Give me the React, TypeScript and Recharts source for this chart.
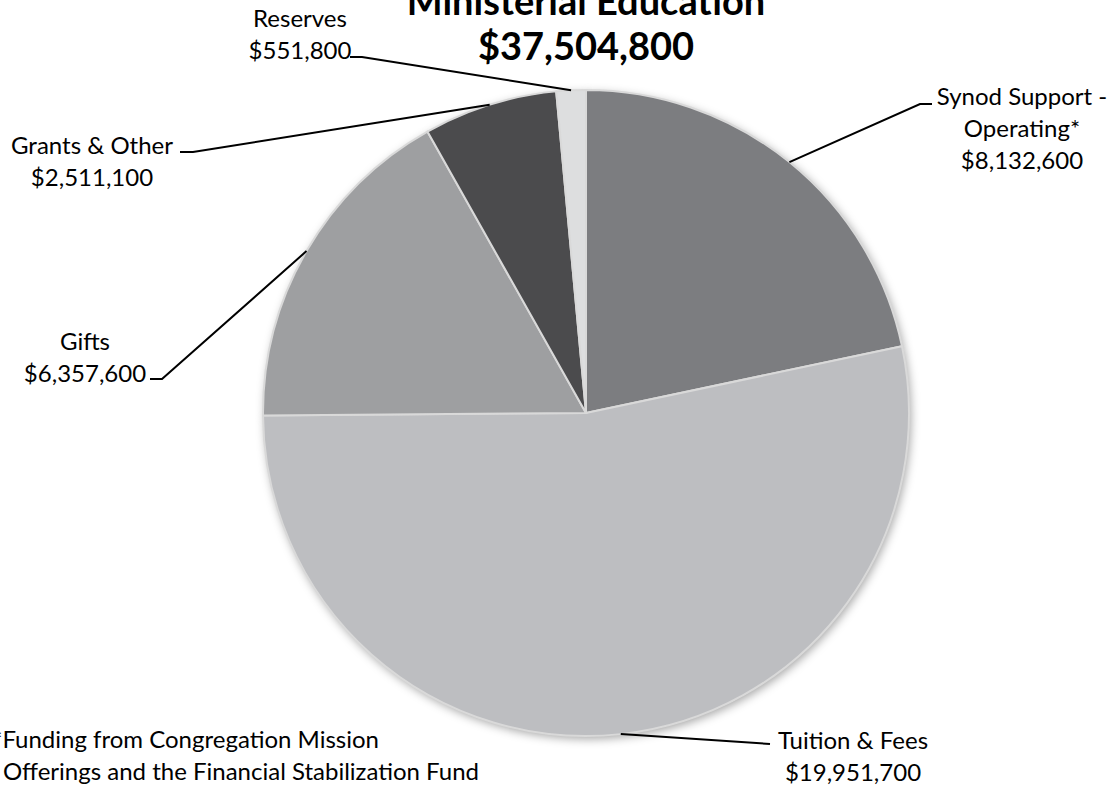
import { PieChart, Pie, Cell } from 'recharts';

const categories = ['Synod Support - Operating*', 'Tuition & Fees', 'Gifts', 'Grants & Other', 'Reserves'];
const labelLines = [['Synod Support -', 'Operating*'], ['Tuition & Fees'], ['Gifts'], ['Grants & Other'], ['Reserves']];
const values = [8132600, 19951700, 6357600, 2511100, 551800];
const colours = ['#7c7d80', '#bdbec1', '#9e9fa1', '#4b4b4d', '#dddedf'];

const titleLines = ['Ministerial Education', '$37,504,800'];
const footnoteLines = ['*Funding from Congregation Mission', 'Offerings and the Financial Stabilization Fund'];

const data = categories.map((name, i) => ({ name, value: values[i] }));

// where each label sits: elbow of leader, end of the short tick, text centre, first baseline
const LABEL_LAYOUT = [
  { ex: 920, hx: 932, ly: 104, tx: 1022, ty: 105 },
  { ex: 770, hx: 770, ly: 744, tx: 853, ty: 749 },
  { ex: 162, hx: 150, ly: 379, tx: 85, ty: 350 },
  { ex: 193, hx: 180, ly: 152, tx: 92, ty: 154 },
  { ex: 362, hx: 350, ly: 57, tx: 300, ty: 27 },
];

const FONT = 'Lato, "Open Sans", sans-serif';
const RADIAN = Math.PI / 180;
const fmt = (v: number) => '$' + v.toLocaleString('en-US');

function renderLabel(props: any) {
  const { cx, cy, midAngle, outerRadius, index } = props;
  const lay = LABEL_LAYOUT[index];
  const sx = cx + outerRadius * Math.cos(-midAngle * RADIAN);
  const sy = cy + outerRadius * Math.sin(-midAngle * RADIAN);
  const lines = [...labelLines[index], fmt(values[index])];
  return (
    <g key={`lbl-${index}`}>
      <polyline
        points={`${sx},${sy} ${lay.ex},${lay.ly} ${lay.hx},${lay.ly}`}
        fill="none"
        stroke="#000"
        strokeWidth={2}
      />
      <text x={lay.tx} y={lay.ty} textAnchor="middle" fontFamily={FONT} fontSize={24} fill="#000">
        {lines.map((l, i) => (
          <tspan key={i} x={lay.tx} dy={i === 0 ? 0 : 32}>
            {l}
          </tspan>
        ))}
      </text>
    </g>
  );
}

export default function App() {
  return (
    <div style={{ position: 'absolute', left: 0, top: 0, width: 1116, height: 786, overflow: 'hidden', background: '#fff' }}>
      <PieChart width={1116} height={786} margin={{ top: 0, right: 0, bottom: 0, left: 0 }}>
        <defs>
          <filter id="pieShadow" x="-20%" y="-20%" width="140%" height="140%">
            <feDropShadow dx={2} dy={3} stdDeviation={5} floodColor="#000" floodOpacity={0.35} />
          </filter>
        </defs>
        <Pie
          data={data}
          dataKey="value"
          cx={586}
          cy={413}
          outerRadius={323}
          startAngle={90}
          endAngle={-270}
          stroke="none"
          isAnimationActive={false}
          label={false}
          labelLine={false}
        >
          {data.map((d, i) => (
            <Cell key={d.name} fill="#ffffff" filter="url(#pieShadow)" />
          ))}
        </Pie>
        <Pie
          data={data}
          dataKey="value"
          cx={586}
          cy={413}
          outerRadius={323}
          startAngle={90}
          endAngle={-270}
          stroke="#d9d9d9"
          strokeWidth={2}
          isAnimationActive={false}
          label={renderLabel}
          labelLine={false}
        >
          {data.map((d, i) => (
            <Cell key={d.name} fill={colours[i]} />
          ))}
        </Pie>
        <text x={586} y={15} textAnchor="middle" fontFamily={FONT} fontWeight={700} fontSize={38} fill="#000">
          {titleLines[0]}
        </text>
        <text x={586} y={60} textAnchor="middle" fontFamily={FONT} fontWeight={700} fontSize={38} fill="#000">
          {titleLines[1]}
        </text>
        <text x={379} y={748} textAnchor="end" fontFamily={FONT} fontSize={24} fill="#000">
          {footnoteLines[0]}
        </text>
        <text x={3} y={780} textAnchor="start" fontFamily={FONT} fontSize={24} fill="#000">
          {footnoteLines[1]}
        </text>
      </PieChart>
    </div>
  );
}
